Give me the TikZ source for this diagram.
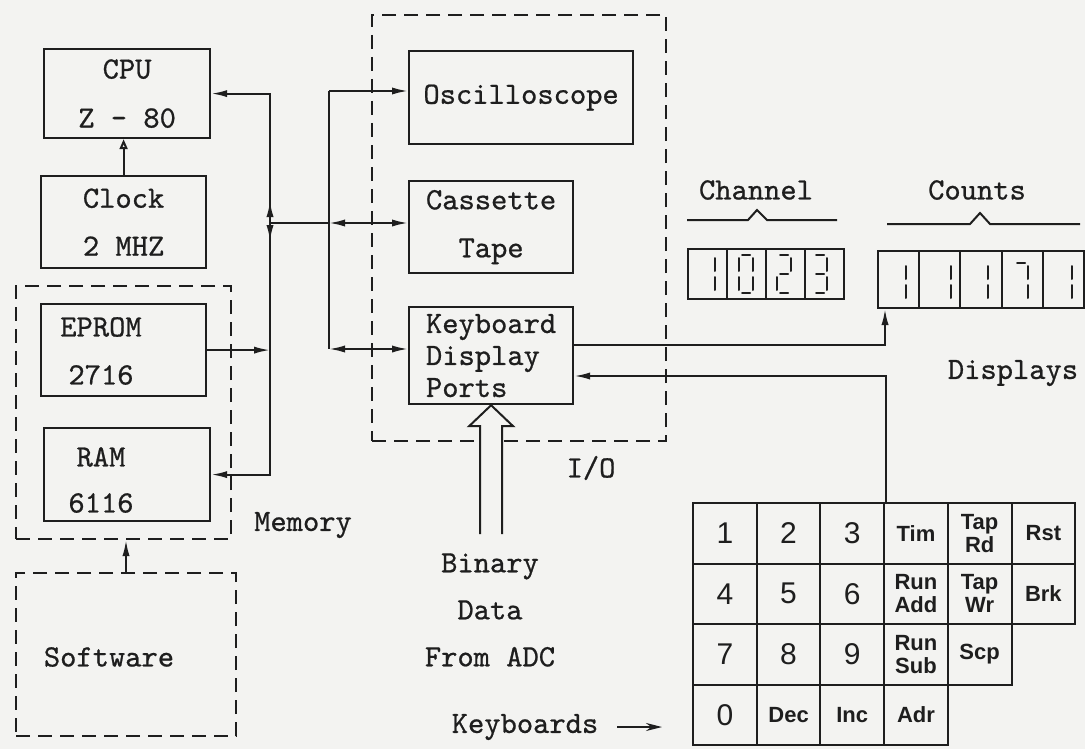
\documentclass[tikz,border=0pt]{standalone}
\usepackage{fontspec}
\usepackage{tikz}
\usetikzlibrary{arrows.meta,calc}
\newfontfamily\keyfont{Liberation Sans}
\newfontfamily\typew{lmmono10-regular.otf}[FakeBold=0.7]
\newcommand\boxfont{\typew\fontsize{15.5}{16}\selectfont}
\definecolor{paper}{RGB}{243,243,241}
\definecolor{ink}{RGB}{30,30,30}

% seven segment digit, segments a..g
\def\sega{(3,0) -- (11,0)}
\def\segb{(14,3) -- (14,16)}
\def\segc{(14,22) -- (14,35)}
\def\segd{(3,38) -- (11,38)}
\def\sege{(0,22) -- (0,35)}
\def\segf{(0,3) -- (0,16)}
\def\segg{(3,19) -- (11,19)}
\tikzset{
  pics/segdigit/.style={code={
    \foreach \s in {#1} \draw[seg] \csname seg\s\endcsname;
  }}
}

\begin{document}
\begin{tikzpicture}[x=0.5pt,y=-0.5pt,line width=1pt,color=ink,
    >={Latex[length=8pt,width=3.6pt]},
    blk/.style={draw,line width=1.1pt,inner sep=0pt,anchor=north west,align=center,font=\boxfont},
    grp/.style={draw,dash pattern=on 7pt off 4pt,inner sep=0pt,anchor=north west},
    lbl/.style={font=\boxfont,inner sep=1pt,align=center},
    cell/.style={draw,inner sep=0pt,anchor=north west},
    key/.style={draw,inner sep=0pt,minimum width=31.85pt,minimum height=30.25pt},
    numkey/.style={font=\keyfont\fontsize{15}{15}\selectfont},
    fnkey/.style={font=\keyfont\bfseries\fontsize{11}{11.5}\selectfont,align=center},
    seg/.style={line width=1pt,line cap=round}]
    \fill[paper] (0,0) rectangle (1085,749);
    \useasboundingbox (0,0) rectangle (1085,749);

    % Groups
    \node[grp,minimum width=147pt,minimum height=213pt] (io) at (371,14) {};
    \node[grp,minimum width=107.5pt,minimum height=126.5pt] (mem) at (15,285) {};
    \node[grp,minimum width=110pt,minimum height=81.5pt] (sw) at (15,572) {};

    % Blocks
    \node[blk,minimum width=83pt,minimum height=44.5pt] (cpu) at (43,48) {CPU\\[8.5pt]Z - 80};
    \node[blk,minimum width=82.5pt,minimum height=46pt] (clock) at (40,175) {Clock\\[8pt]2 MHZ};
    \node[blk,minimum width=82.5pt,minimum height=46pt] (eprom) at (40,303) {};
    \node[lbl] (eprom-t) at (101,351) {EPROM\\[8pt]2716};
    \node[blk,minimum width=83pt,minimum height=46.5pt] (ram) at (43,427) {};
    \node[lbl] (ram-t) at (101,480) {RAM\\[7pt]6116};
    \node[lbl] (sw-t) at (109,657) {Software};
    \node[blk,minimum width=112pt,minimum height=46.5pt] (osc) at (408,50) {Oscilloscope};
    \node[blk,minimum width=82pt,minimum height=46pt] (cas) at (408,180) {Cassette\\[8pt]Tape};
    \node[blk,minimum width=82pt,minimum height=48.5pt,align=left] (kdp) at (408,306) {Keyboard\\Display\\Ports};

    % Labels
    \node[lbl] (memlbl) at (303,525) {Memory};
    \node[lbl] (iolbl) at (591,468) {I/O};
    \node[lbl] (adc) at (490,610) {Binary\\[7.5pt]Data\\[7.5pt]From ADC};
    \node[lbl] (kbl) at (525,727) {Keyboards};
    \node[lbl] (chl) at (756,190) {Channel};
    \node[lbl] (cnl) at (977,190) {Counts};
    \node[lbl] (dspl) at (1013,373) {Displays};

    % Bus
    \coordinate (bus) at (270,223);
    \coordinate (iot) at (329,91);
    \coordinate (iob) at (329,349);
    \draw[<->] (cpu.east) -- (cpu.east -| bus) -- (ram.east -| bus) -- (ram.east);
    \draw[->] (eprom.east) -- (eprom.east -| bus);
    \draw[->] (bus) -- ++(0,-22);
    \draw[->] (bus) -- ++(0,18);
    \draw (bus) -- (bus -| iot);
    \draw[<->] (bus -| iot) -- (bus -| cas.west);
    \draw (iot) -- (iob);
    \draw[->] (iot) -- (iot -| osc.west);
    \draw[<->] (iob) -- (iob -| kdp.west);
    \draw[-{Triangle[open,length=5pt,width=4pt]}] (clock.north) -- (clock.north |- cpu.south);
    \draw[->] (sw.north) -- (sw.north |- mem.south);

    % Data from ADC
    \fill[paper] (kdp.south) -- ++(22,21) -- ++(-11,0) -- ++(0,108) -- ++(-22,0) -- ++(0,-108) -- ++(-11,0) -- cycle;
    \draw (kdp.south) -- ++(22,21) -- ++(-11,0) -- ++(0,108);
    \draw (kdp.south) -- ++(-22,21) -- ++(11,0) -- ++(0,108);

    % Displays
    \foreach \i in {1,...,4}
        \node[cell,minimum width=19.5pt,minimum height=25pt] (ch\i) at ({687+39*(\i-1)},248) {};
    \foreach \i in {1,...,5}
        \node[cell,minimum width=20.6pt,minimum height=28.5pt] (cn\i) at ({877+41.2*(\i-1)},250) {};
    \pic at (701,255) {segdigit={b,c}};
    \pic at (739,255) {segdigit={a,b,c,d,e,f}};
    \pic at (777,255) {segdigit={a,b,g,e,d}};
    \pic at (813,255) {segdigit={a,b,g,c,d}};
    \foreach \xd in {892,937,974,1058}
        \pic at (\xd,263) {segdigit={b,c}};
    \pic at (1014,263) {segdigit={a,b,c}};
    \draw (687,220) -- (748,220) -- (757,210) -- (767,220) -- (837,220);
    \draw (887,224) -- (970,224) -- (980,213) -- (990,224) -- (1080,224);

    % Keyboard
    \foreach \col/\row/\lbl/\sty in {1/1/1/numkey,2/1/2/numkey,3/1/3/numkey,4/1/Tim/fnkey,5/1/Tap\\Rd/fnkey,6/1/Rst/fnkey,
        1/2/4/numkey,2/2/5/numkey,3/2/6/numkey,4/2/Run\\Add/fnkey,5/2/Tap\\Wr/fnkey,6/2/Brk/fnkey,
        1/3/7/numkey,2/3/8/numkey,3/3/9/numkey,4/3/Run\\Sub/fnkey,5/3/Scp/fnkey,
        1/4/0/numkey,2/4/Dec/fnkey,3/4/Inc/fnkey,4/4/Adr/fnkey}
        \node[key,\sty] (k\col\row) at ({693+63.7*(\col-0.5)},{503+60.5*(\row-0.5)}) {\lbl};

    \coordinate (kbtip) at (662,727);
    \draw[-{Stealth[length=8pt,width=4pt]},shorten <=8pt] (kbl.east) -- (kbtip);

    % Ports to displays and keyboard
    \coordinate (dsp) at (885,345);
    \coordinate (kbd) at (886,376);
    \draw[->] (kdp.east |- dsp) -- (dsp) -- (dsp |- cn1.south);
    \draw[->] (kbd |- k41.north) -- (kbd) -- (kbd -| kdp.east);
\end{tikzpicture}
\end{document}
